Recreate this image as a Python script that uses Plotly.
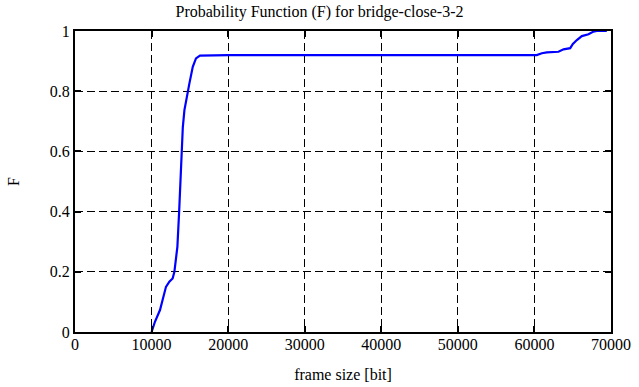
import plotly.graph_objects as go

frame_size = [10000, 10440, 11100, 11540, 11880, 12320, 12750, 12980, 13200, 13370, 13590,
              13810, 13950, 14080, 14290, 14600, 14940, 15380, 15800, 16320, 20000, 30000,
              40000, 50000, 60300, 60970, 61620, 63140, 63800, 64670, 65020, 65540, 66190,
              67060, 67710, 68150, 69450]
F = [0.0, 0.034, 0.073, 0.117, 0.15, 0.167, 0.178, 0.2, 0.239, 0.283, 0.394,
     0.527, 0.615, 0.68, 0.737, 0.782, 0.826, 0.881, 0.909, 0.918, 0.920, 0.920,
     0.920, 0.920, 0.920, 0.926, 0.929, 0.931, 0.939, 0.943, 0.957, 0.97, 0.983,
     0.989, 0.998, 1.0, 1.0]

x_ticks = [0, 10000, 20000, 30000, 40000, 50000, 60000, 70000]
y_ticks = [0, 0.2, 0.4, 0.6, 0.8, 1]
y_tick_labels = ["0", "0.2", "0.4", "0.6", "0.8", "1"]

font = "Liberation Serif, Times New Roman, serif"

fig = go.Figure()
fig.add_trace(go.Scatter(x=frame_size, y=F, mode="lines",
                         line=dict(color="#0000ff", width=2.2), showlegend=False))

axis_common = dict(showline=True, linecolor="black", linewidth=2, mirror="ticks",
                   ticks="inside", ticklen=6, tickwidth=1.5, tickcolor="black",
                   showgrid=True, gridcolor="black", gridwidth=1, griddash="8px,4px",
                   zeroline=False, automargin=False,
                   tickfont=dict(family=font, size=16, color="black"))

fig.update_xaxes(range=[0, 70000], tickvals=x_ticks, ticktext=[str(v) for v in x_ticks],
                 ticklabelstandoff=-3,
                 title=dict(text="frame size [bit]", font=dict(family=font, size=16, color="black"),
                            standoff=17),
                 **axis_common)
fig.update_yaxes(range=[0, 1], tickvals=y_ticks, ticktext=y_tick_labels,
                 title=dict(text="F", font=dict(family=font, size=16, color="black"), standoff=26),
                 **axis_common)

fig.update_layout(
    width=639, height=387,
    margin=dict(l=75, r=28, t=31, b=55),
    plot_bgcolor="white", paper_bgcolor="white",
    title=dict(text="Probability Function (F) for bridge-close-3-2", x=0.5, xanchor="center",
               y=1 - 11 / 387, yanchor="middle",
               font=dict(family=font, size=16, color="black")),
)

fig.write_html("out.html", config={"displayModeBar": False},
               post_script="document.body.style.margin='0px';document.body.style.overflow='hidden';")
